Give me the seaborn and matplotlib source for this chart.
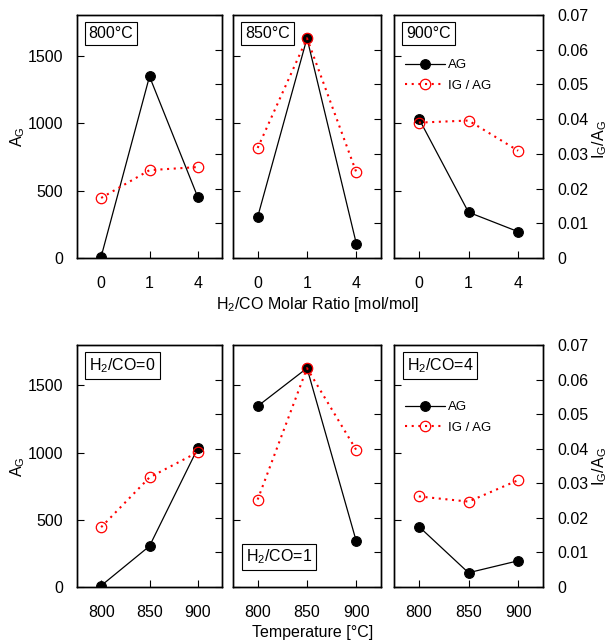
import matplotlib
matplotlib.use("Agg")
import matplotlib.pyplot as plt
import seaborn as sns
import pandas as pd

# ---------------- data ----------------
ratio_labels = ["0", "1", "4"]          # H2/CO molar ratio
temp_labels = ["800", "850", "900"]     # temperature [°C]

# A_G vs H2/CO ratio (0, 1, 4) at each temperature
ag_800 = [10, 1345, 450]
ag_850 = [304, 1628, 106]
ag_900 = [1033, 339, 195]
# I_G/A_G vs H2/CO ratio (0, 1, 4) at each temperature
ig_800 = [0.0173, 0.0253, 0.0262]
ig_850 = [0.0317, 0.0633, 0.0247]
ig_900 = [0.0390, 0.0396, 0.0309]

top_titles = ["800°C", "850°C", "900°C"]
bottom_titles = ["H$_2$/CO=0", "H$_2$/CO=1", "H$_2$/CO=4"]

ag_by_temp = [ag_800, ag_850, ag_900]
ig_by_temp = [ig_800, ig_850, ig_900]
# bottom row: same measurements regrouped by ratio (x = temperature)
ag_by_ratio = [[row[i] for row in ag_by_temp] for i in range(3)]
ig_by_ratio = [[row[i] for row in ig_by_temp] for i in range(3)]

# ---------------- style ----------------
sns.set_style("ticks")
plt.rcParams["font.family"] = ["Liberation Sans", "DejaVu Sans"]
plt.rcParams["mathtext.fontset"] = "custom"
plt.rcParams["mathtext.rm"] = "Liberation Sans"
plt.rcParams["mathtext.default"] = "regular"
for k in ("text.color", "axes.labelcolor", "xtick.color", "ytick.color", "axes.edgecolor"):
    plt.rcParams[k] = "black"
FS = 11.5

fig = plt.figure(figsize=(6.16, 6.43), dpi=100)
W, H = 616.0, 643.0

cols = [(77, 222), (233, 381), (394, 543)]
rows = [(15, 258), (345, 587)]


def make_ax(c, r):
    x0, x1 = cols[c]
    y0, y1 = rows[r]
    return fig.add_axes([x0 / W, 1 - y1 / H, (x1 - x0) / W, (y1 - y0) / H])


def draw_panel(ax, xlabels, ag, ig, c, title, title_pos, legend_y):
    df = pd.DataFrame({"x": list(range(len(xlabels))), "ag": ag, "ig": ig})
    ax2 = ax.twinx()
    sns.lineplot(data=df, x="x", y="ag", ax=ax, color="black", lw=0.9,
                 marker="o", markersize=7, markeredgecolor="black",
                 markerfacecolor="black", markeredgewidth=0.8, legend=False,
                 label="AG", zorder=3)
    sns.lineplot(data=df, x="x", y="ig", ax=ax2, color="red", lw=1.5,
                 linestyle=(0, (1.0, 2.2)), marker="o", markersize=7.5,
                 markerfacecolor="none", markeredgecolor="red",
                 markeredgewidth=0.9, legend=False, label="IG / AG",
                 zorder=4)
    for a in (ax, ax2):
        lg = a.get_legend()
        if lg is not None:
            lg.remove()
        a.set_xlabel("")
        a.set_ylabel("")
        for s in a.spines.values():
            s.set_visible(True)
            s.set_linewidth(1.0)
            s.set_color("black")
    ax.set_xlim(-0.5, 2.5)
    ax.set_ylim(0, 1800)
    ax2.set_ylim(0, 0.07)
    ax.set_xticks(range(len(xlabels)))
    ax.set_xticklabels(xlabels)
    ax.set_yticks([0, 500, 1000, 1500])
    ax2.set_yticks([0, 0.01, 0.02, 0.03, 0.04, 0.05, 0.06, 0.07])
    ax2.set_yticklabels(["0", "0.01", "0.02", "0.03", "0.04", "0.05", "0.06", "0.07"])
    ax.tick_params(axis="x", direction="in", length=5, width=0.8, pad=13,
                   labelsize=FS, top=False, bottom=True)
    ax.tick_params(axis="y", direction="in", length=5, width=0.8, pad=10,
                   labelsize=FS, left=True, right=False, labelleft=(c == 0))
    ax2.tick_params(axis="y", direction="in", length=5, width=0.8, pad=10,
                    labelsize=FS, right=True, left=False, labelright=(c == 2))
    ax2.tick_params(axis="x", top=False, bottom=False)
    tx, ty, va = title_pos
    ax.text(tx, ty, title, transform=ax.transAxes, ha="left", va=va,
            fontsize=FS, zorder=10,
            bbox=dict(boxstyle="square,pad=0.25", fc="white", ec="black", lw=0.8))
    if legend_y is not None:
        handles = [ax.get_lines()[0], ax2.get_lines()[0]]
        ax2.legend(handles, ["AG", "IG / AG"], loc="upper left",
                   bbox_to_anchor=(0.075, legend_y), frameon=False,
                   fontsize=9.5, handlelength=3.0, handletextpad=0.25,
                   borderaxespad=0, borderpad=0, labelspacing=0.6)
    return ax2


# top row: x = H2/CO ratio
for c in range(3):
    ax = make_ax(c, 0)
    draw_panel(ax, ratio_labels, ag_by_temp[c], ig_by_temp[c], c,
               top_titles[c], (0.08, 0.955, "top"),
               0.818 if c == 2 else None)

# bottom row: x = temperature
for c in range(3):
    ax = make_ax(c, 1)
    if c == 1:
        pos = (0.085, 0.085, "bottom")
    else:
        pos = (0.085, 0.955, "top")
    draw_panel(ax, temp_labels, ag_by_ratio[c], ig_by_ratio[c], c,
               bottom_titles[c], pos, 0.768 if c == 2 else None)

# axis labels
fig.text(18 / W, 1 - 137 / H, "A$_G$", rotation=90, ha="center", va="center", fontsize=FS)
fig.text(18 / W, 1 - 467 / H, "A$_G$", rotation=90, ha="center", va="center", fontsize=FS)
fig.text(600 / W, 1 - 140 / H, "I$_G$/A$_G$", rotation=90, ha="center", va="center", fontsize=FS)
fig.text(600 / W, 1 - 467 / H, "I$_G$/A$_G$", rotation=90, ha="center", va="center", fontsize=FS)
fig.text(318 / W, 1 - 305 / H, "H$_2$/CO Molar Ratio [mol/mol]", ha="center", va="center", fontsize=FS)
fig.text(313 / W, 1 - 632 / H, "Temperature [°C]", ha="center", va="center", fontsize=FS)

fig.savefig("out.png", dpi=100)
